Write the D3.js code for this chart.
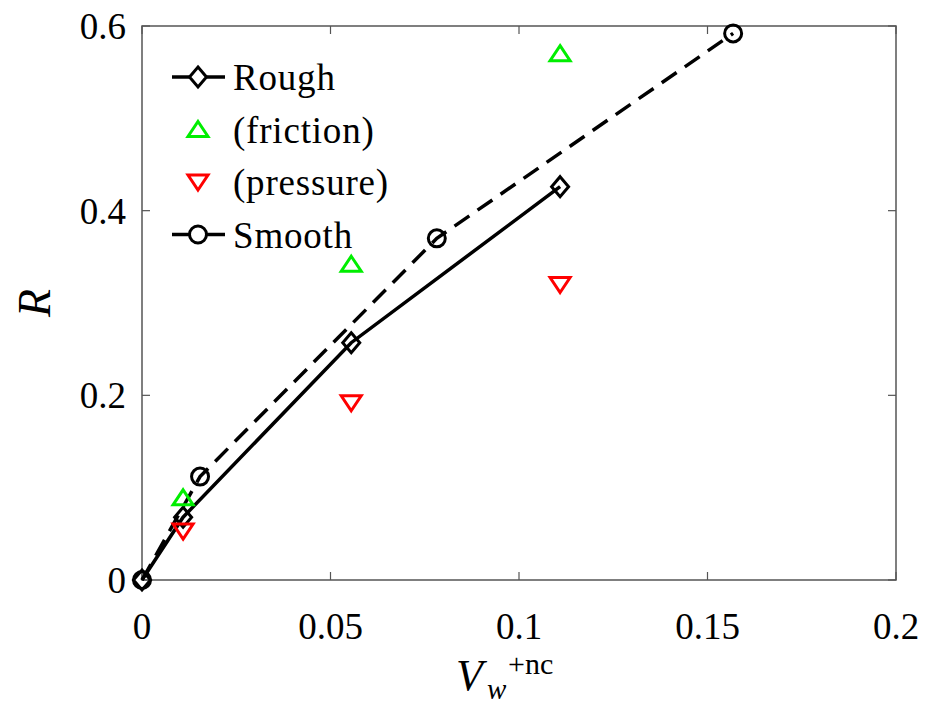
<!DOCTYPE html>
<html>
<head>
<meta charset="utf-8">
<script src="https://cdn.jsdelivr.net/npm/d3@7"></script>
<style>
  body { margin: 0; background: #fff; }
</style>
</head>
<body>
<div id="chart"></div>
<script>
// data
const roughX = [0, 0.0109, 0.0555, 0.1109];
const roughR = [0, 0.068, 0.257, 0.426];
const smoothX = [0, 0.0154, 0.0782, 0.1568];
const smoothR = [0, 0.112, 0.370, 0.592];
const frictionX = [0.0109, 0.0555, 0.1109];
const frictionR = [0.089, 0.342, 0.570];
const pressureX = [0.0109, 0.0555, 0.1109];
const pressureR = [0.053, 0.192, 0.320];
const xTicks = [0, 0.05, 0.1, 0.15, 0.2];
const yTicks = [0, 0.2, 0.4, 0.6];
const legendLabels = ['Rough', '(friction)', '(pressure)', 'Smooth'];

let width = 926, height = 707;
let pLeft = 142, pRight = 896, pTop = 26, pBottom = 580;
let FONT = '"Liberation Serif", "Times New Roman", "DejaVu Serif", serif';

let svg = d3.select('#chart').append('svg')
  .attr('width', width)
  .attr('height', height);

let x = d3.scaleLinear().domain([0, 0.2]).range([pLeft, pRight]);
let y = d3.scaleLinear().domain([0, 0.6]).range([pBottom, pTop]);

function txt(px, py, str, size, anchor, italic) {
  let t = svg.append('text')
    .attr('x', px).attr('y', py)
    .attr('font-family', FONT)
    .attr('font-size', size)
    .attr('text-anchor', anchor || 'start')
    .attr('fill', '#000')
    .text(str);
  if (italic) t.attr('font-style', 'italic');
  return t;
}

// box + ticks on all sides
let axisCol = '#555';
svg.append('rect')
  .attr('x', pLeft).attr('y', pTop)
  .attr('width', pRight - pLeft).attr('height', pBottom - pTop)
  .attr('fill', 'none').attr('stroke', axisCol).attr('stroke-width', 1.5);

let tickLen = 8;
xTicks.forEach(t => {
  svg.append('line').attr('x1', x(t)).attr('x2', x(t)).attr('y1', pBottom).attr('y2', pBottom - tickLen)
    .attr('stroke', axisCol).attr('stroke-width', 1.2);
  svg.append('line').attr('x1', x(t)).attr('x2', x(t)).attr('y1', pTop).attr('y2', pTop + tickLen)
    .attr('stroke', axisCol).attr('stroke-width', 1.2);
  txt(x(t), 639, String(t), 37, 'middle');
});
yTicks.forEach(t => {
  svg.append('line').attr('x1', pLeft).attr('x2', pLeft + tickLen).attr('y1', y(t)).attr('y2', y(t))
    .attr('stroke', axisCol).attr('stroke-width', 1.2);
  svg.append('line').attr('x1', pRight).attr('x2', pRight - tickLen).attr('y1', y(t)).attr('y2', y(t))
    .attr('stroke', axisCol).attr('stroke-width', 1.2);
  txt(126, y(t) + 13, String(t), 37, 'end');
});

// axis titles
svg.append('text').attr('transform', 'translate(50,' + y(0.3) + ') rotate(-90)')
  .attr('font-family', FONT).attr('font-size', 46).attr('font-style', 'italic')
  .attr('text-anchor', 'middle').text('R');

txt(456, 690, 'V', 44, 'start', true);
txt(487, 699, 'w', 29, 'start', true);
txt(508, 674, '+nc', 30, 'start');

let line = d3.line().x(d => x(d[0])).y(d => y(d[1]));
let rough = roughX.map((v, i) => [v, roughR[i]]);
let smooth = smoothX.map((v, i) => [v, smoothR[i]]);
let friction = frictionX.map((v, i) => [v, frictionR[i]]);
let pressure = pressureX.map((v, i) => [v, pressureR[i]]);

let lw = 3.5;
svg.append('path').datum(smooth).attr('d', line)
  .attr('fill', 'none').attr('stroke', '#000').attr('stroke-width', lw).attr('stroke-dasharray', '18,10');
svg.append('path').datum(rough).attr('d', line)
  .attr('fill', 'none').attr('stroke', '#000').attr('stroke-width', lw);

let diamond = 'M0,-10L8.5,0L0,10L-8.5,0Z';
let upTri = 'M0,-8L10,7L-10,7Z';
let downTri = 'M0,8L10,-7L-10,-7Z';

function drawPath(data, path, col) {
  svg.selectAll(null).data(data).enter().append('path')
    .attr('d', path)
    .attr('transform', d => 'translate(' + x(d[0]) + ',' + y(d[1]) + ')')
    .attr('fill', 'none').attr('stroke', col).attr('stroke-width', 3);
}
drawPath(rough, diamond, '#000');
svg.selectAll(null).data(smooth).enter().append('circle')
  .attr('cx', d => x(d[0])).attr('cy', d => y(d[1])).attr('r', 8.5)
  .attr('fill', 'none').attr('stroke', '#000').attr('stroke-width', 3);
drawPath(friction, upTri, '#00ee00');
drawPath(pressure, downTri, '#ff0000');

// legend
let legendTypes = ['diamond', 'up', 'down', 'circle'];
legendLabels.forEach((label, i) => {
  let ly = 77 + i * 52.5;
  let type = legendTypes[i];
  let g = svg.append('g').attr('transform', 'translate(198,' + ly + ')');
  if (type === 'diamond' || type === 'circle') {
    g.append('line').attr('x1', -26).attr('x2', 27).attr('stroke', '#000').attr('stroke-width', lw);
  }
  if (type === 'diamond') g.append('path').attr('d', diamond).attr('fill', '#fff').attr('stroke', '#000').attr('stroke-width', 3);
  if (type === 'circle') g.append('circle').attr('r', 8.5).attr('fill', '#fff').attr('stroke', '#000').attr('stroke-width', 3);
  if (type === 'up') g.append('path').attr('d', upTri).attr('fill', 'none').attr('stroke', '#00ee00').attr('stroke-width', 3);
  if (type === 'down') g.append('path').attr('d', downTri).attr('fill', 'none').attr('stroke', '#ff0000').attr('stroke-width', 3);
  txt(233, ly + 13, label, 37, 'start').attr('letter-spacing', 0.8);
});
</script>
</body>
</html>
